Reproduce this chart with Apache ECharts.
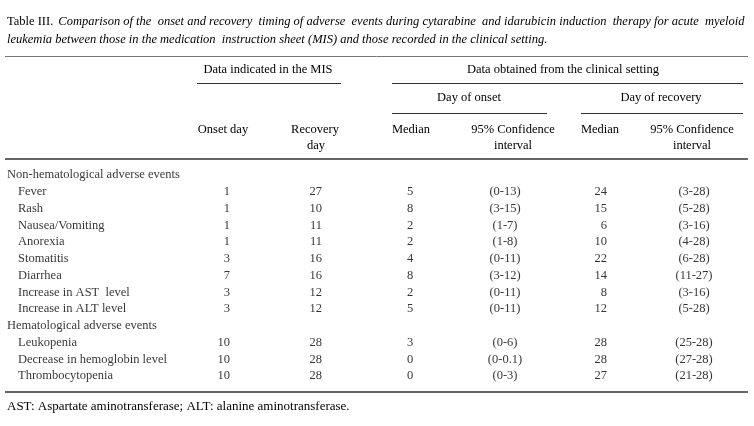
<!DOCTYPE html>
<html>
<head>
<meta charset="utf-8">
<script src="https://cdn.jsdelivr.net/npm/echarts@6/dist/echarts.min.js"></script>
<style>html,body{margin:0;padding:0;background:#fff}#c{width:754px;height:426px}</style>
</head>
<body>
<div id="c"></div>
<script>
// ---- data ----
const titleLead = 'Table III.';
const titleLine1 = 'Comparison of the onset and recovery timing of adverse events during cytarabine and idarubicin induction therapy for acute myeloid';
const titleLine2 = 'leukemia between those in the medication  instruction sheet (MIS) and those recorded in the clinical setting.';
const groups = ['Non-hematological adverse events', 'Hematological adverse events'];
const nonHemEvents = ['Fever', 'Rash', 'Nausea/Vomiting', 'Anorexia', 'Stomatitis', 'Diarrhea', 'Increase in AST  level', 'Increase in ALT level'];
const hemEvents = ['Leukopenia', 'Decrease in hemoglobin level', 'Thrombocytopenia'];
const misOnsetDay = [1, 1, 1, 1, 3, 7, 3, 3, 10, 10, 10];
const misRecoveryDay = [27, 10, 11, 11, 16, 16, 12, 12, 28, 28, 28];
const onsetMedian = [5, 8, 2, 2, 4, 8, 2, 5, 3, 0, 0];
const onsetCI = ['(0-13)', '(3-15)', '(1-7)', '(1-8)', '(0-11)', '(3-12)', '(0-11)', '(0-11)', '(0-6)', '(0-0.1)', '(0-3)'];
const recoveryMedian = [24, 15, 6, 10, 22, 14, 8, 12, 28, 28, 27];
const recoveryCI = ['(3-28)', '(5-28)', '(3-16)', '(4-28)', '(6-28)', '(11-27)', '(3-16)', '(5-28)', '(25-28)', '(27-28)', '(21-28)'];
const footnote = 'AST: Aspartate aminotransferase; ALT: alanine aminotransferase.';

// ---- build table rows ----
const rows = [];
rows.push({label: groups[0], kind: 'group'});
nonHemEvents.forEach((e, i) => rows.push({label: e, kind: 'item', idx: i}));
rows.push({label: groups[1], kind: 'group'});
hemEvents.forEach((e, i) => rows.push({label: e, kind: 'item', idx: nonHemEvents.length + i}));
const rowNames = rows.map((r, i) => 'r' + i);

// ---- layout (pixel space of x axis 0..754) ----
const FONT = 'Liberation Serif';
const FS = 12.5;
const COLOR = '#000';
const colDefs = [
  {x: 230, align: 'right', values: misOnsetDay},
  {x: 322, align: 'right', values: misRecoveryDay},
  {x: 410, align: 'center', values: onsetMedian},
  {x: 505, align: 'center', values: onsetCI},
  {x: 607, align: 'right', values: recoveryMedian},
  {x: 694, align: 'center', values: recoveryCI}
];

function textSeries(name, points, align) {
  return {
    type: 'scatter', name, symbolSize: 0, silent: true, animation: false,
    data: points.map(p => ({value: [p.x, p.y], txt: p.t})),
    label: {
      show: true, position: 'inside', align, verticalAlign: 'middle',
      formatter: prm => prm.data.txt,
      fontFamily: FONT, fontSize: FS, color: COLOR
    }
  };
}

const series = [];
series.push(textSeries('groups', rows.map((r, i) => r.kind === 'group' ? {x: 7, y: rowNames[i], t: r.label} : null).filter(Boolean), 'left'));
series.push(textSeries('events', rows.map((r, i) => r.kind === 'item' ? {x: 18, y: rowNames[i], t: r.label} : null).filter(Boolean), 'left'));
colDefs.forEach((c, k) => {
  series.push(textSeries('col' + k, rows.map((r, i) => r.kind === 'item' ? {x: c.x, y: rowNames[i], t: String(c.values[r.idx])} : null).filter(Boolean), c.align));
});

function hline(x1, x2, y, w, col) {
  return {type: 'line', silent: true, shape: {x1, y1: y, x2, y2: y}, style: {stroke: col || '#333', lineWidth: w || 1}};
}
function htext(t, x, y, align, fs) {
  return {type: 'text', silent: true, x, y, style: {text: t, font: (fs || FS) + 'px "' + FONT + '"', fill: COLOR, align: align || 'center', verticalAlign: 'middle'}};
}

const graphics = [
  hline(5, 748, 56.5, 1, '#777'),
  htext('Data indicated in the MIS', 268, 70),
  hline(197, 341, 83.5, 1),
  htext('Data obtained from the clinical setting', 563, 70),
  hline(392, 743, 83.5, 1),
  htext('Day of onset', 469, 98),
  hline(392, 547, 113.5, 1),
  htext('Day of recovery', 661, 98),
  hline(581, 743, 113.5, 1),
  htext('Onset day', 223, 130),
  htext('Recovery', 315, 130),
  htext('day', 316, 146),
  htext('Median', 411, 130),
  htext('95% Confidence', 513, 130),
  htext('interval', 513, 146),
  htext('Median', 600, 130),
  htext('95% Confidence', 692, 130),
  htext('interval', 692, 146),
  hline(5, 748, 159, 1.5),
  hline(5, 748, 392, 1.5),
  htext(footnote, 7, 407, 'left', 13)
];

// justify the first title line approximately by widening some word gaps
const l1Words = titleLine1.split(' ');
const l1 = l1Words.reduce((s, w, i) => i === 0 ? w : s + (i % 3 === 0 ? '  ' : ' ') + w, '');

const chart = echarts.init(document.getElementById('c'), null, {renderer: 'canvas'});
chart.setOption({
  backgroundColor: '#fff',
  animation: false,
  title: {
    left: 2, top: 13, padding: [0, 5],
    text: '{n|' + titleLead + '} {i|' + l1 + '}\n{i|' + titleLine2 + '}',
    textStyle: {
      fontWeight: 'normal',
      rich: {
        n: {fontFamily: FONT, fontSize: FS, fontWeight: 'normal', color: COLOR, lineHeight: 18},
        i: {fontFamily: FONT, fontSize: FS, fontWeight: 'normal', fontStyle: 'italic', color: COLOR, lineHeight: 18}
      }
    }
  },
  grid: {left: 0, right: 0, top: 166.6, height: 217.75, containLabel: false},
  xAxis: {type: 'value', min: 0, max: 754, show: false},
  yAxis: {type: 'category', data: rowNames, inverse: true, show: false, boundaryGap: true},
  series,
  graphic: graphics
});
</script>
</body>
</html>
